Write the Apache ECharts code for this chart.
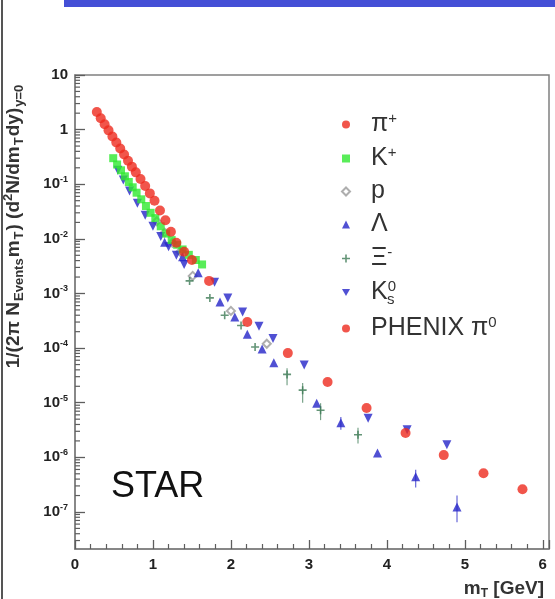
<!DOCTYPE html>
<html>
<head>
<meta charset="utf-8">
<script src="https://cdn.jsdelivr.net/npm/echarts@6/dist/echarts.min.js"></script>
<style>
  html, body { margin: 0; padding: 0; background: #fff; }
  #chart { width: 555px; height: 599px; }
</style>
</head>
<body>
<div id="chart"></div>
<script>
// [mT (GeV), yield] pairs
const piPlus = [
    [0.28, 2.1], [0.33, 1.62], [0.38, 1.25], [0.43, 0.97], [0.48, 0.75],
    [0.53, 0.58], [0.58, 0.45], [0.63, 0.35], [0.68, 0.27], [0.73, 0.21],
    [0.78, 0.165], [0.84, 0.125], [0.90, 0.093], [0.96, 0.068], [1.02, 0.05],
    [1.09, 0.033], [1.16, 0.022], [1.23, 0.0135], [1.30, 0.0085], [1.40, 0.0058],
    [1.50, 0.0041]
];
const kPlus = [
    [0.49, 0.30], [0.54, 0.23], [0.59, 0.18], [0.64, 0.14], [0.69, 0.11],
    [0.74, 0.088], [0.79, 0.07], [0.85, 0.053], [0.91, 0.04], [0.97, 0.03],
    [1.03, 0.024], [1.10, 0.017], [1.17, 0.0125], [1.24, 0.0095], [1.31, 0.0078],
    [1.38, 0.0064], [1.46, 0.0051], [1.55, 0.0041], [1.63, 0.0034]
];
const proton = [
    [1.05, 0.021], [1.15, 0.013], [1.25, 0.0085], [1.35, 0.0058], [1.51, 0.0021],
    [2.0, 4.8e-4], [2.46, 1.2e-4]
];
const lambda = [
    [1.15, 8.7e-3], [1.38, 4.7e-3], [1.58, 2.4e-3], [1.86, 7e-4], [2.05, 3.7e-4],
    [2.21, 1.8e-4], [2.40, 9.6e-5], [2.55, 5.4e-5], [3.10, 9.8e-6], [3.41, 4.3e-6],
    [3.88, 1.2e-6], [4.37, 4.4e-7], [4.90, 1.23e-7]
];
const xi = [
    [1.47, 1.7e-3], [1.73, 8.3e-4], [1.92, 4.0e-4], [2.13, 2.6e-4], [2.31, 1.05e-4],
    [2.72, 3.3e-5], [2.92, 1.7e-5], [3.15, 7.3e-6], [3.63, 2.6e-6]
];
const k0s = [
    [0.55, 0.18], [0.62, 0.12], [0.70, 0.075], [0.80, 0.045], [0.90, 0.027],
    [1.00, 0.017], [1.10, 0.011], [1.20, 0.0072], [1.30, 0.005], [1.40, 0.0034],
    [1.79, 1.6e-3], [1.96, 8.3e-4], [2.15, 4.6e-4], [2.36, 2.5e-4], [2.54, 1.5e-4],
    [2.94, 4.9e-5], [3.76, 5.2e-6], [4.26, 3.2e-6], [4.77, 1.7e-6]
];
const phenixPi0 = [
    [1.72, 1.7e-3], [2.21, 3.0e-4], [2.73, 8.1e-5], [3.24, 2.4e-5], [3.74, 8e-6],
    [4.24, 2.8e-6], [4.73, 1.1e-6], [5.24, 5.1e-7], [5.74, 2.6e-7]
];
// [mT, high, low]
const lambdaErr = [[3.41, 5.5e-6, 3.2e-6], [4.37, 5.9e-7, 2.8e-7], [4.90, 2.0e-7, 6.5e-8]];
const xiErr = [[2.72, 4.3e-5, 2.1e-5], [2.92, 2.3e-5, 1.0e-5], [3.15, 9.8e-6, 4.8e-6], [3.63, 3.5e-6, 1.8e-6]];

const legendNames = ['π+', 'K+', 'p', 'Λ', 'Ξ-', 'K0s', 'PHENIX π0'];
const legendRich = {
    'π+': '{n|π}{sup|+}',
    'K+': '{n|K}{sup|+}',
    'p': '{n|p}',
    'Λ': '{n|Λ}',
    'Ξ-': '{n|Ξ}{sup|-}',
    'K0s': '{n|K}{sup|0}{subk|s}',
    'PHENIX π0': '{n|PHENIX π}{sup|0}'
};

// minor ticks of the log axis (2..9 in each decade)
const minorTickVals = [];
for (let e = -8; e <= 0; e++) {
    for (let m = 2; m <= 9; m++) {
        const v = m * Math.pow(10, e);
        if (v > 2.1e-8 && v < 10) minorTickVals.push([1, v]);
    }
}

const RED = '#ee2a1e';
const GREEN = '#2fe82f';
const BLUE = '#2424c8';
const XICOL = '#3d7a55';
const GREY = '#9a9a9a';
const AXIS = '#808080';
const TICK = '#5e5e5e';
const downTri = 'path://M0,0L10,0L5,9Z';
const plus = 'path://M4,0h2v4h4v2h-4v4h-2v-4h-4v-2h4z';

function errBars(color) {
    return function (params, api) {
        const x = api.value(0);
        const top = api.coord([x, api.value(1)]);
        const bot = api.coord([x, api.value(2)]);
        return {
            type: 'line',
            shape: { x1: top[0], y1: top[1], x2: bot[0], y2: bot[1] },
            style: { stroke: color, lineWidth: 1.2, opacity: 0.7 }
        };
    };
}

function minorTicks(params, api) {
    const p = api.coord([api.value(0), api.value(1)]);
    const x0 = params.coordSys.x;
    return {
        type: 'line',
        shape: { x1: x0, y1: p[1], x2: x0 + 5, y2: p[1] },
        style: { stroke: TICK, lineWidth: 1.2 }
    };
}

const chart = echarts.init(document.getElementById('chart'), null, { renderer: 'canvas' });

const option = {
    backgroundColor: '#ffffff',
    animation: false,
    grid: {
        left: 75, right: 6, top: 75, bottom: 50,
        outerBoundsMode: 'none',
        containLabel: false,
        show: true, borderColor: AXIS, borderWidth: 1.5
    },
    legend: {
        data: legendNames,
        orient: 'vertical',
        left: 336,
        top: 106,
        itemWidth: 8,
        itemHeight: 8,
        itemGap: 8,
        selectedMode: false,
        formatter: name => legendRich[name],
        textStyle: {
            fontFamily: 'Liberation Sans, Arial, sans-serif',
            color: '#333',
            padding: [0, 0, 0, 16],
            rich: {
                n: { fontSize: 25, color: '#333', fontFamily: 'Liberation Sans' },
                sup: { fontSize: 15, color: '#333', padding: [0, 0, 12, 0], fontFamily: 'Liberation Sans' },
                subk: { fontSize: 15, color: '#333', padding: [14, 0, 0, -9], fontFamily: 'Liberation Sans' }
            }
        }
    },
    xAxis: {
        type: 'value',
        min: 0,
        max: 6.08,
        interval: 1,
        name: '{b|m}{s|T}{b| [GeV]}',
        nameLocation: 'end',
        nameGap: -5,
        nameTextStyle: {
            align: 'right',
            verticalAlign: 'top',
            padding: [29, 0, 0, 0],
            rich: {
                b: { fontSize: 19, fontWeight: 'bold', color: '#333', fontFamily: 'Liberation Sans' },
                s: { fontSize: 12, fontWeight: 'bold', color: '#333', padding: [10, 0, 0, 0], fontFamily: 'Liberation Sans' }
            }
        },
        axisLine: { lineStyle: { color: AXIS, width: 1.5 } },
        axisTick: { inside: true, length: 9, lineStyle: { color: TICK, width: 1.3 } },
        minorTick: { show: true, splitNumber: 5, length: 5, lineStyle: { color: TICK, width: 1.2 } },
        splitLine: { show: false },
        axisLabel: {
            showMaxLabel: false,
            margin: 8,
            fontSize: 15,
            fontWeight: 'bold',
            color: '#222',
            fontFamily: 'Liberation Sans'
        }
    },
    yAxis: {
        type: 'log',
        logBase: 10,
        min: 2.1e-8,
        max: 10,
        splitNumber: 9,
        name: '{b|1/(2π N}{s|Events}{b|m}{s|T}{b|) (d}{p|2}{b|N/dm}{s|T}{b|dy)}{s|y=0}',
        nameLocation: 'middle',
        nameRotate: 90,
        nameGap: 49,
        nameTextStyle: {
            padding: [0, 0, 0, 172],
            rich: {
                b: { fontSize: 19, fontWeight: 'bold', color: '#333', fontFamily: 'Liberation Sans' },
                s: { fontSize: 13, fontWeight: 'bold', color: '#333', padding: [11, 1, 0, 1], fontFamily: 'Liberation Sans' },
                p: { fontSize: 13, fontWeight: 'bold', color: '#333', padding: [0, 0, 11, 0], fontFamily: 'Liberation Sans' }
            }
        },
        axisLine: { lineStyle: { color: AXIS, width: 1.5 } },
        axisTick: { inside: true, length: 10, lineStyle: { color: TICK, width: 1.3 } },
        splitLine: { show: false },
        axisLabel: {
            showMinLabel: false,
            margin: 7,
            formatter: function (v) {
                const e = Math.round(Math.log10(v));
                if (e === 1) return '{b|10}';
                if (e === 0) return '{b|1}';
                return '{b|10}{s|' + e + '}';
            },
            rich: {
                b: { fontSize: 15, fontWeight: 'bold', color: '#222', fontFamily: 'Liberation Sans' },
                s: { fontSize: 9, fontWeight: 'bold', color: '#222', padding: [0, 0, 9, 0], fontFamily: 'Liberation Sans' }
            }
        }
    },
    graphic: [
        { type: 'rect', shape: { x: 64, y: 0, width: 491, height: 7 }, style: { fill: '#444fd6' } },
        { type: 'rect', shape: { x: 1, y: 0, width: 2, height: 599 }, style: { fill: '#555' } },
        {
            type: 'text', left: 111, top: 469,
            style: { text: 'STAR', fontSize: 36, fill: '#111', fontFamily: 'Liberation Sans' }
        }
    ],
    series: [
        { type: 'custom', renderItem: minorTicks, data: minorTickVals, encode: { x: 0, y: 1 }, silent: true, z: 5 },
        { name: 'p', type: 'scatter', symbol: 'emptyDiamond', symbolSize: 8, data: proton, itemStyle: { color: GREY, borderWidth: 1.2 } },
        { name: 'K0s', type: 'scatter', symbol: downTri, symbolSize: 9, data: k0s, itemStyle: { color: BLUE } },
        { name: 'Λ', type: 'scatter', symbol: 'triangle', symbolSize: 9, data: lambda, itemStyle: { color: BLUE } },
        { name: 'Ξ-', type: 'scatter', symbol: plus, symbolSize: 8, data: xi, itemStyle: { color: XICOL } },
        { type: 'custom', renderItem: errBars(BLUE), data: lambdaErr, encode: { x: 0, y: [1, 2] }, silent: true },
        { type: 'custom', renderItem: errBars(XICOL), data: xiErr, encode: { x: 0, y: [1, 2] }, silent: true },
        { name: 'K+', type: 'scatter', symbol: 'rect', symbolSize: 8, data: kPlus, itemStyle: { color: GREEN } },
        { name: 'π+', type: 'scatter', symbol: 'circle', symbolSize: 10, data: piPlus, itemStyle: { color: RED } },
        { name: 'PHENIX π0', type: 'scatter', symbol: 'circle', symbolSize: 10, data: phenixPi0, itemStyle: { color: RED } }
    ]
};

chart.setOption(option);
</script>
</body>
</html>
